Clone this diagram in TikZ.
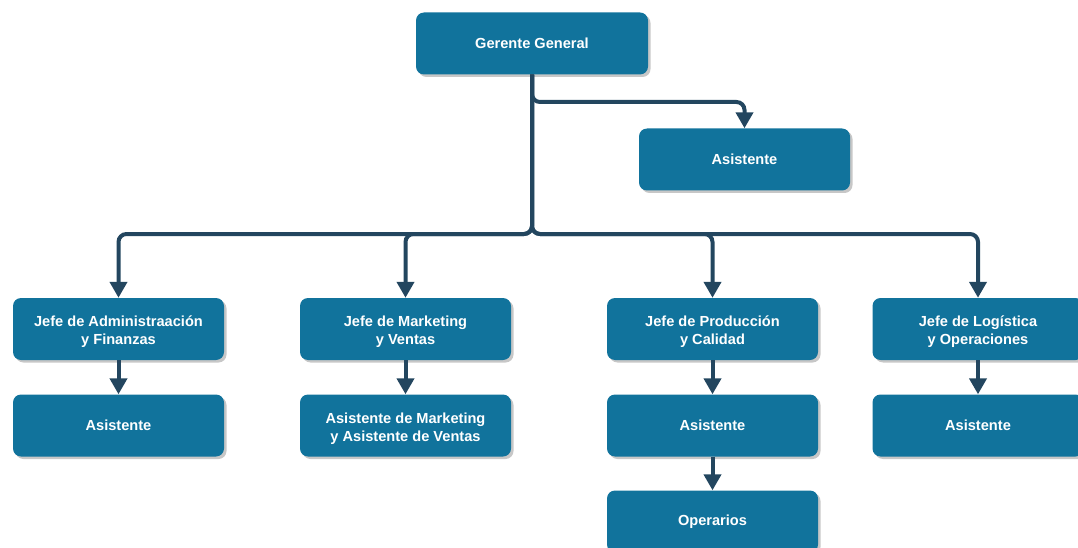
\documentclass[tikz,border=0pt]{standalone}
\usepackage{fontspec}
\setmainfont{Liberation Sans}
\usetikzlibrary{arrows.meta,shadows}
\definecolor{boxblue}{RGB}{17,115,156}
\definecolor{linknavy}{RGB}{35,70,95}
\begin{document}
\begin{tikzpicture}[x=1pt,y=-1pt,
  box/.style={fill=boxblue, rounded corners=8pt, minimum width=211pt,
    minimum height=62pt, inner sep=2pt, text=white, align=center,
    font=\bfseries\fontsize{14.6}{18}\selectfont,
    drop shadow={shadow xshift=2.5pt, shadow yshift=-2.5pt, fill=black!22, opacity=1}},
  twoline/.style={text height=34.5pt},
  conn/.style={draw=linknavy, line width=4pt, rounded corners=8pt,
    -{Triangle[width=17pt,length=16pt]}}]
\useasboundingbox (0,0) rectangle (1078,548);

% boxes
\node[box, minimum width=232pt] (g) at (532,43.5) {Gerente General};
\node[box] (a0) at (744.5,159.5) {Asistente};

\node[box, twoline] (j1) at (118.5,329) {Jefe de Administraación\\y Finanzas};
\node[box, twoline] (j2) at (405.5,329) {Jefe de Marketing\\y Ventas};
\node[box, twoline] (j3) at (712.5,329) {Jefe de Producción\\y Calidad};
\node[box, twoline] (j4) at (978,329) {Jefe de Logística\\y Operaciones};

\node[box] (a1) at (118.5,425.5) {Asistente};
\node[box, twoline] (a2) at (405.5,425.5) {Asistente de Marketing\\y Asistente de Ventas};
\node[box] (a3) at (712.5,425.5) {Asistente};
\node[box] (a4) at (978,425.5) {Asistente};

\node[box] (op) at (712.5,521.5) {Operarios};

% connectors
\coordinate (split) at (532,102);
\coordinate (bus) at (532,234);
\draw[conn] (g.south) -- (split) -| (a0.north);
\draw[conn] (g.south) -- (bus) -| (j1.north);
\draw[conn] (g.south) -- (bus) -| (j2.north);
\draw[conn] (g.south) -- (bus) -| (j3.north);
\draw[conn] (g.south) -- (bus) -| (j4.north);

\draw[conn] (j1.south) -- (a1.north);
\draw[conn] (j2.south) -- (a2.north);
\draw[conn] (j3.south) -- (a3.north);
\draw[conn] (j4.south) -- (a4.north);
\draw[conn] (a3.south) -- (op.north);
\end{tikzpicture}
\end{document}
